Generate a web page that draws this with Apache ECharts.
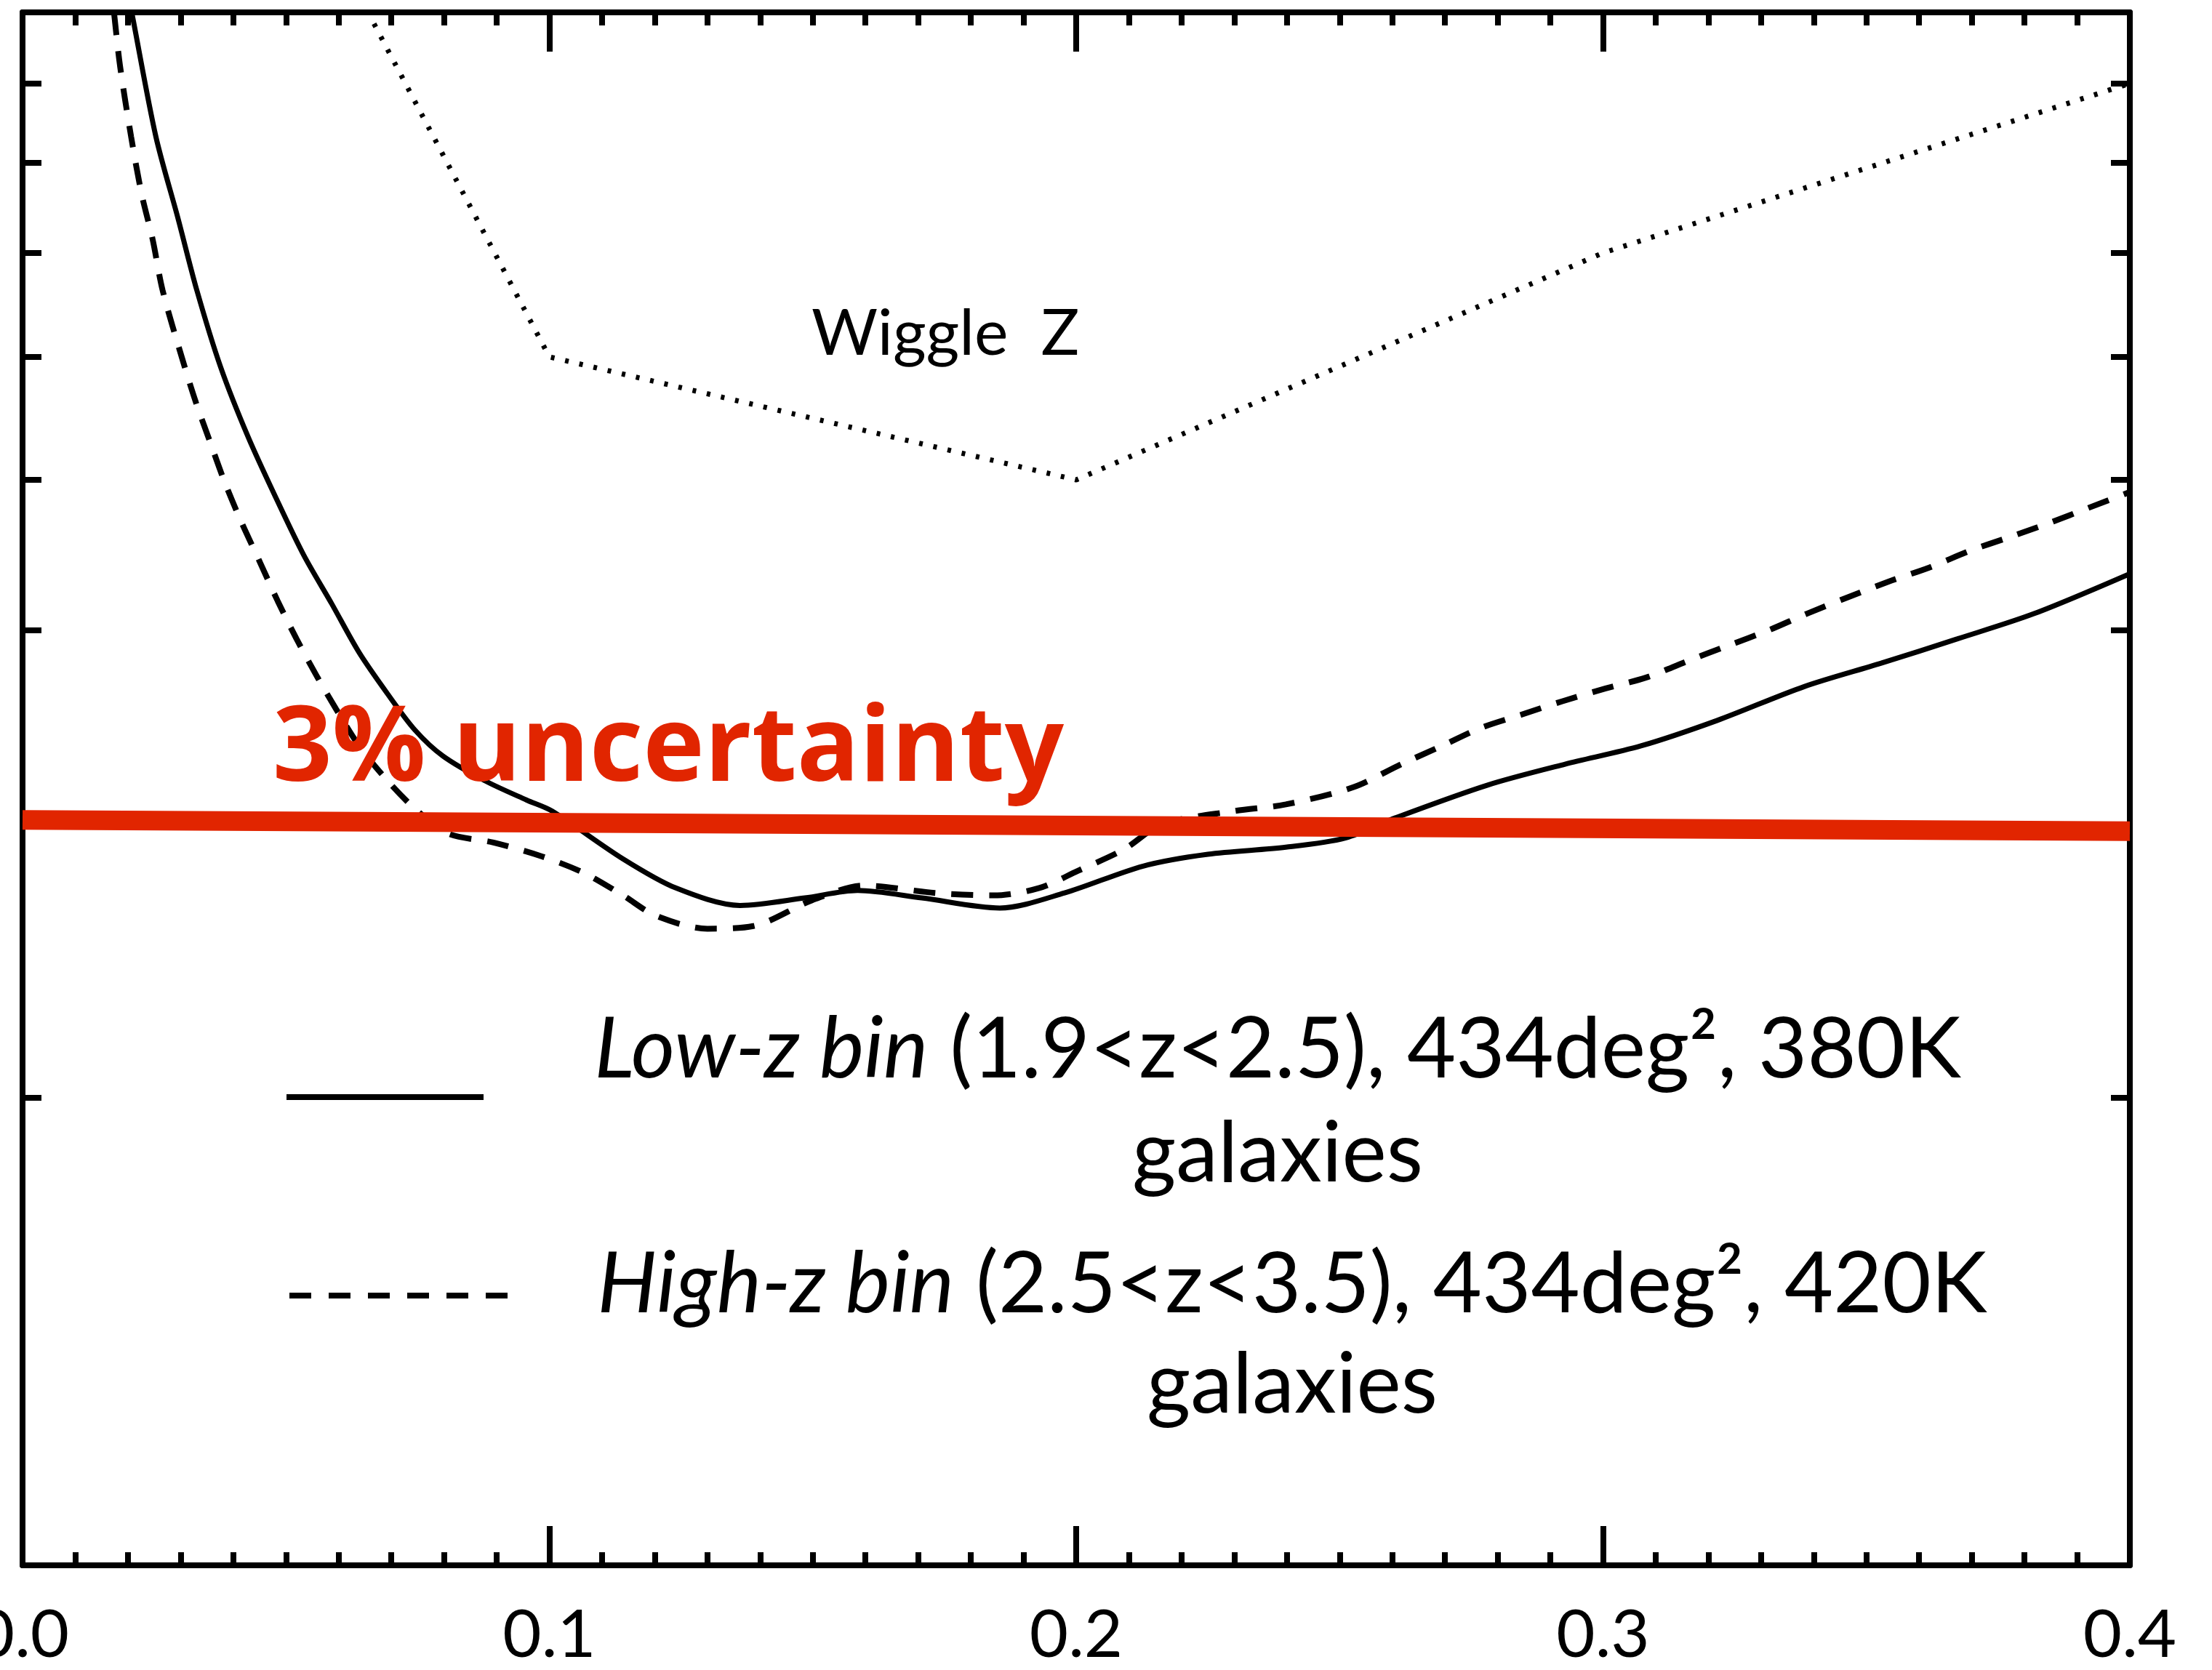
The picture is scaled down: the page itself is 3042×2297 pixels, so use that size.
<!DOCTYPE html>
<html>
<head>
<meta charset="utf-8">
<script src="https://cdn.jsdelivr.net/npm/echarts@6/dist/echarts.min.js"></script>
<style>
  html, body { margin: 0; padding: 0; background: #ffffff; }
  #chart { width: 3042px; height: 2297px; }
</style>
</head>
<body>
<div id="chart"></div>
<script>
// Fractional distance error (%) versus redshift-bin parameter, log scale.
// Low-z bin, 1.9 < z < 2.5 (solid)
const lowZ = [
  [0.017, 11.6], [0.0208, 9.97], [0.0253, 8.32], [0.0295, 7.37], [0.0331, 6.62],
  [0.0376, 5.91], [0.0428, 5.33], [0.0482, 4.86], [0.0534, 4.47], [0.0587, 4.16],
  [0.0639, 3.87], [0.0693, 3.64], [0.0745, 3.45], [0.0798, 3.32], [0.0878, 3.20],
  [0.0957, 3.11], [0.1005, 3.06], [0.114, 2.85], [0.124, 2.73], [0.1362, 2.66],
  [0.1485, 2.69], [0.1585, 2.72], [0.1707, 2.69], [0.1855, 2.65], [0.1978, 2.71],
  [0.2127, 2.82], [0.225, 2.87], [0.2398, 2.90], [0.2511, 2.94], [0.2607, 3.03],
  [0.2781, 3.18], [0.2928, 3.28], [0.3072, 3.37], [0.3217, 3.50], [0.3382, 3.68],
  [0.3528, 3.81], [0.3673, 3.95], [0.3818, 4.10], [0.400, 4.35]
];

// High-z bin, 2.5 < z < 3.5 (dashed)
const highZ = [
  [0.015, 11.8], [0.0174, 9.97], [0.0185, 9.24], [0.0206, 8.32], [0.0226, 7.64],
  [0.0247, 7.14], [0.0266, 6.62], [0.0304, 5.97], [0.0329, 5.61], [0.0355, 5.30],
  [0.0384, 4.98], [0.0415, 4.70], [0.045, 4.43], [0.0484, 4.18], [0.052, 3.95],
  [0.056, 3.73], [0.0595, 3.56], [0.0639, 3.37], [0.0693, 3.20], [0.0745, 3.07],
  [0.0807, 2.96], [0.0894, 2.92], [0.0987, 2.86], [0.1067, 2.79], [0.114, 2.70],
  [0.1202, 2.62], [0.130, 2.57], [0.1387, 2.58], [0.1498, 2.68], [0.1597, 2.74],
  [0.1732, 2.71], [0.1843, 2.70], [0.193, 2.73], [0.2003, 2.80], [0.209, 2.89],
  [0.2163, 3.00], [0.230, 3.06], [0.2398, 3.09], [0.2526, 3.17], [0.2617, 3.28],
  [0.2694, 3.37], [0.2767, 3.46], [0.2845, 3.53], [0.2922, 3.60], [0.3005, 3.67],
  [0.3082, 3.73], [0.3159, 3.82], [0.3237, 3.91], [0.3314, 4.00], [0.3387, 4.10],
  [0.3464, 4.20], [0.3542, 4.30], [0.3619, 4.39], [0.3696, 4.50], [0.3769, 4.59],
  [0.3847, 4.69], [0.3924, 4.80], [0.400, 4.91]
];

// WiggleZ reference (dotted)
const wiggleZ = [[0.05, 12.6], [0.1, 6.0], [0.2, 5.0], [0.3, 7.0], [0.4, 9.0]];

// 3% uncertainty target line
const target = [[0.0, 3.02], [0.4, 2.97]];

// Axis ticks
const xTickLabels = ['0.0', '0.1', '0.2', '0.3', '0.4'];
const yMinorTicks = [2, 3, 4, 5, 6, 7, 8, 9];

const INK = '#000000';
const RED = '#e12500';

const chart = echarts.init(document.getElementById('chart'), null, { renderer: 'canvas' });

function xAxisCfg(position, showLabel) {
  return {
    type: 'value', position: position, min: 0, max: 0.4, interval: 0.1,
    axisLine: { show: true, onZero: false, lineStyle: { color: INK, width: 8 } },
    axisTick: { show: true, inside: true, length: 54, lineStyle: { color: INK, width: 8 } },
    minorTick: { show: true, splitNumber: 10, length: 18, lineStyle: { color: INK, width: 8 } },
    splitLine: { show: false },
    minorSplitLine: { show: false },
    axisLabel: {
      show: showLabel, margin: 50, fontFamily: 'Lato', fontSize: 92, color: INK,
      formatter: v => xTickLabels[Math.round(v * 10)]
    }
  };
}

function yAxisCfg(position) {
  return {
    type: 'log', logBase: 10, position: position, min: 1, max: 10,
    axisLine: { show: true, onZero: false, lineStyle: { color: INK, width: 8 } },
    axisTick: { show: true, inside: true, length: 26, customValues: yMinorTicks,
                lineStyle: { color: INK, width: 8 } },
    axisLabel: { show: false },
    splitLine: { show: false }
  };
}

const legendFont = 'Lato';
const legendSize = 116;

chart.setOption({
  backgroundColor: '#ffffff',
  animation: false,
  grid: { left: 31, right: 113, top: 17, bottom: 144, containLabel: false, outerBoundsMode: 'none' },
  xAxis: [xAxisCfg('bottom', true), xAxisCfg('top', false)],
  yAxis: [yAxisCfg('left'), yAxisCfg('right')],
  series: [
    {
      name: 'Low-z bin', type: 'line', data: lowZ, showSymbol: false,
      smooth: 0.3, clip: true,
      lineStyle: { color: INK, width: 7 }, z: 3
    },
    {
      name: 'High-z bin', type: 'line', data: highZ, showSymbol: false,
      smooth: 0.3, clip: true,
      lineStyle: { color: INK, width: 8, type: [30, 22] }, z: 3
    },
    {
      name: 'WiggleZ', type: 'line', data: wiggleZ, showSymbol: false, clip: true,
      lineStyle: { color: INK, width: 7, type: [5, 15] }, z: 3
    },
    {
      name: '3% uncertainty', type: 'line', data: target, showSymbol: false, clip: true,
      lineStyle: { color: RED, width: 27, cap: 'butt' }, z: 5
    }
  ],
  graphic: [
    {
      type: 'text', x: 1116, y: 460, z: 10,
      style: { text: 'Wiggle  Z', fontFamily: 'Lato', fontSize: 88, fill: INK,
               align: 'left', verticalAlign: 'middle' }
    },
    {
      type: 'text', x: 375, y: 1033, z: 10,
      style: { text: '3% uncertainty', fontFamily: 'Open Sans', fontWeight: 'bold', fontSize: 143,
               fill: RED, align: 'left', verticalAlign: 'middle' }
    },
    // legend samples
    {
      type: 'line', z: 10,
      shape: { x1: 394, y1: 1509, x2: 665, y2: 1509 },
      style: { stroke: INK, lineWidth: 8 }
    },
    {
      type: 'line', z: 10,
      shape: { x1: 398, y1: 1782, x2: 701, y2: 1782 },
      style: { stroke: INK, lineWidth: 8, lineDash: [30, 24] }
    },
    // legend labels
    {
      type: 'text', x: 1757, y: 1445, z: 10,
      style: {
        text: '{i|Low-z bin} (1.9<z<2.5), 434deg², 380K',
        rich: { i: { fontStyle: 'italic', fontFamily: legendFont, fontSize: legendSize, fill: INK } },
        fontFamily: legendFont, fontSize: legendSize, fill: INK,
        align: 'center', verticalAlign: 'middle'
      }
    },
    {
      type: 'text', x: 1757, y: 1588, z: 10,
      style: { text: 'galaxies', fontFamily: legendFont, fontSize: legendSize, fill: INK,
               align: 'center', verticalAlign: 'middle' }
    },
    {
      type: 'text', x: 1777, y: 1768, z: 10,
      style: {
        text: '{i|High-z bin} (2.5<z<3.5), 434deg², 420K',
        rich: { i: { fontStyle: 'italic', fontFamily: legendFont, fontSize: legendSize, fill: INK } },
        fontFamily: legendFont, fontSize: legendSize, fill: INK,
        align: 'center', verticalAlign: 'middle'
      }
    },
    {
      type: 'text', x: 1777, y: 1906, z: 10,
      style: { text: 'galaxies', fontFamily: legendFont, fontSize: legendSize, fill: INK,
               align: 'center', verticalAlign: 'middle' }
    }
  ]
});
</script>
</body>
</html>
